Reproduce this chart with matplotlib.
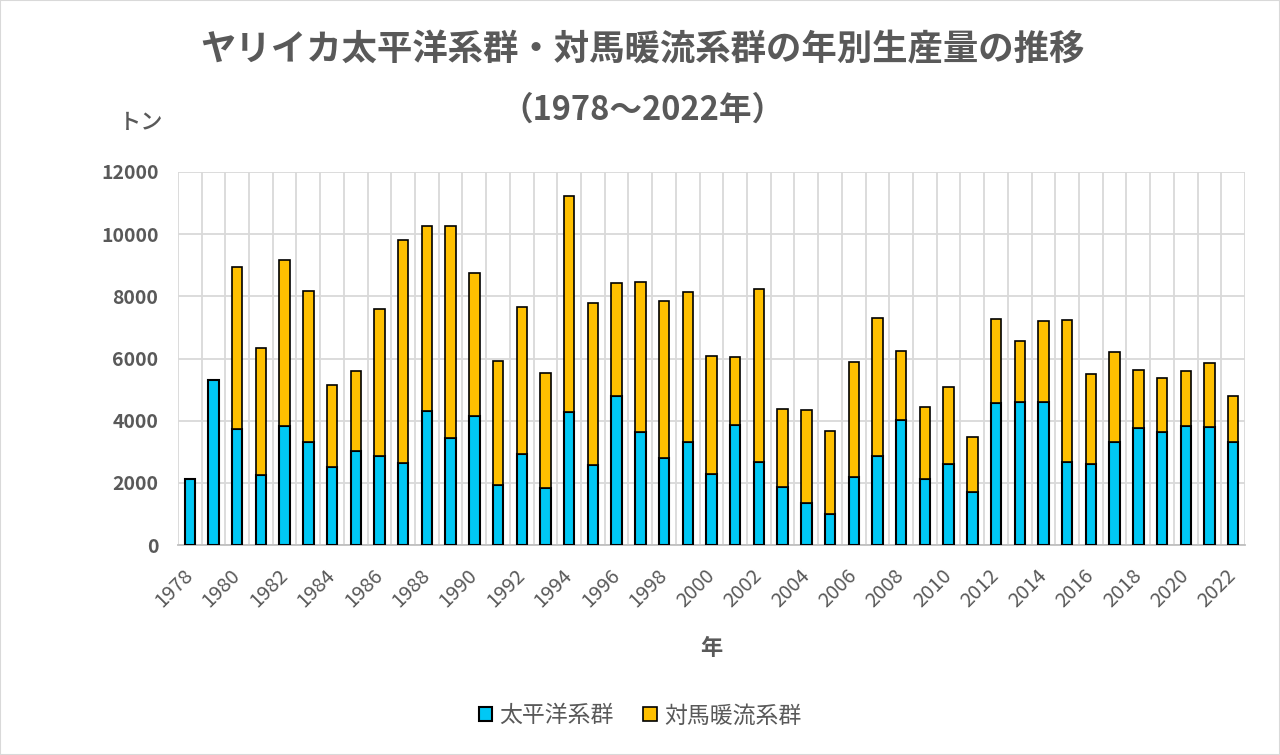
import numpy as np
import matplotlib.pyplot as plt
from matplotlib.patches import Rectangle

plt.rcParams['font.family'] = ['Noto Sans CJK JP', 'DejaVu Sans']

# 年別生産量 (トン)
years = list(range(1978, 2023))
pacific = [2130, 5300, 3740, 2250, 3830, 3330, 2510, 3040, 2860, 2650,
           4300, 3430, 4160, 1930, 2930, 1850, 4270, 2560, 4780, 3650,
           2800, 3330, 2280, 3870, 2670, 1880, 1360, 1010, 2200, 2860,
           4020, 2120, 2620, 1720, 4570, 4590, 4610, 2670, 2600, 3330,
           3780, 3620, 3820, 3790, 3300]
totals = [2130, 5300, 8940, 6350, 9170, 8170, 5150, 5590, 7580, 9820,
          10270, 10250, 8740, 5930, 7650, 5550, 11220, 7800, 8440, 8460,
          7840, 8150, 6080, 6060, 8230, 4360, 4340, 3680, 5900, 7290,
          6250, 4430, 5070, 3490, 7280, 6550, 7220, 7230, 5490, 6200,
          5620, 5360, 5590, 5850, 4810]
tsushima = [t - p for t, p in zip(totals, pacific)]

gray = '#595959'
blue = '#00C8F5'
orange = '#FFC000'

fig = plt.figure(figsize=(12.8, 7.55), dpi=100)
ax = fig.add_axes([0.139, 0.2781, 0.8337, 0.4941])

x = np.arange(len(years))
ax.bar(x, pacific, width=0.44, color=blue, edgecolor='black', linewidth=1.5,
       label='太平洋系群', zorder=3)
ax.bar(x, tsushima, width=0.44, bottom=pacific, color=orange, edgecolor='black',
       linewidth=1.2, label='対馬暖流系群', zorder=3)

ax.set_xlim(-0.5, len(years) - 0.5)
ax.set_ylim(0, 12000)
ax.set_yticks(range(0, 12001, 2000))
ax.set_xticks(x[::2])
ax.set_xticklabels([str(y) for y in years[::2]], rotation=45, ha='right',
                   va='center', rotation_mode='anchor', fontsize=14.5, color=gray)
ax.set_xticks(np.arange(-0.5, len(years), 1), minor=True)
for lab in ax.get_yticklabels():
    lab.set_fontweight('bold')
ax.tick_params(axis='y', length=0, pad=14, labelsize=14, labelcolor=gray)
ax.tick_params(axis='x', which='both', length=0, pad=20)

ax.grid(axis='y', which='major', color='#d9d9d9', linewidth=1.3, zorder=0)
ax.grid(axis='x', which='minor', color='#d9d9d9', linewidth=1.3, zorder=0)
for s in ['top', 'right', 'left']:
    ax.spines[s].set_visible(False)
ax.spines['bottom'].set_color('#bfbfbf')
ax.spines['bottom'].set_linewidth(1.3)

ax.set_xlabel('年', fontsize=16, fontweight='bold', color=gray, labelpad=18)

fig.text(0.502, 0.934, 'ヤリイカ太平洋系群・対馬暖流系群の年別生産量の推移',
         ha='center', va='center', fontsize=25.5, fontweight='bold', color=gray)
fig.text(0.502, 0.854, '（1978～2022年）', ha='center', va='center',
         fontsize=23.5, fontweight='bold', color=gray)
fig.text(0.110, 0.838, 'トン', ha='center', va='center', fontsize=16,
         fontweight='medium', color=gray)

fig.legend(loc='center', bbox_to_anchor=(0.5, 0.052), ncol=2, frameon=False,
           fontsize=16.5, handlelength=0.6, handleheight=0.6, handletextpad=0.3,
           columnspacing=1.3, labelcolor=gray)

fig.patches.append(Rectangle((0, 0), 1, 1, transform=fig.transFigure,
                             fill=False, edgecolor='#d9d9d9', linewidth=1.5))

fig.savefig('out.png', dpi=100)
